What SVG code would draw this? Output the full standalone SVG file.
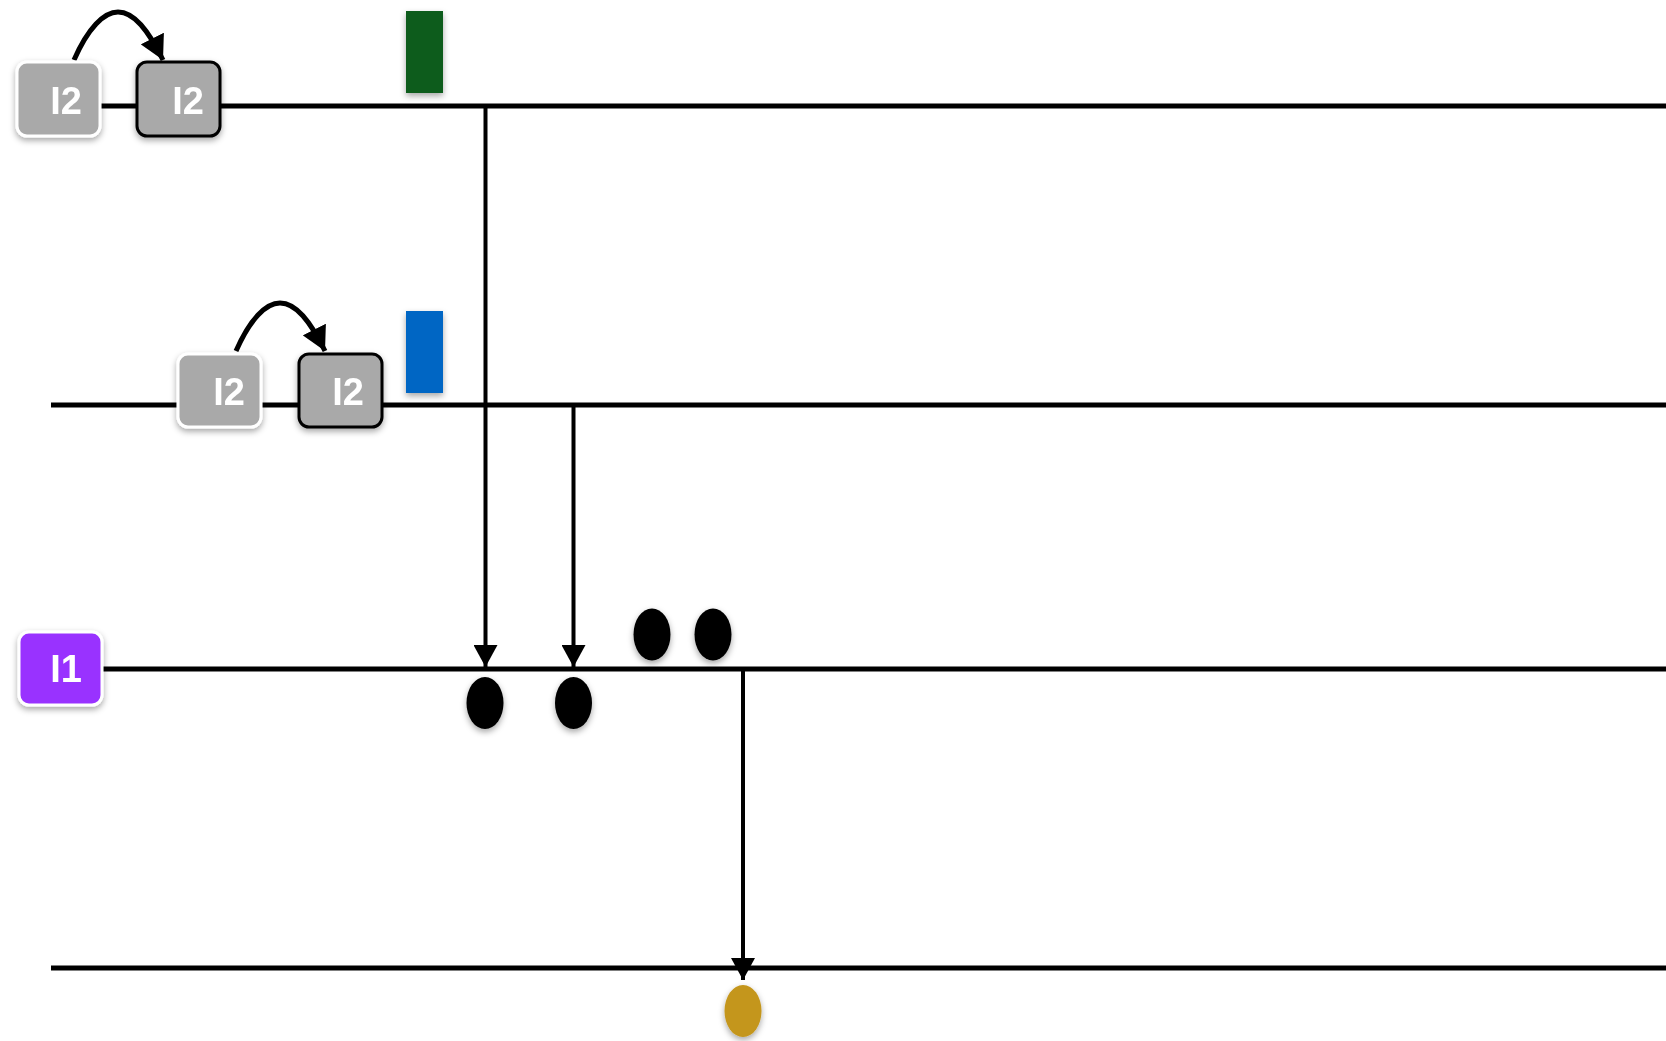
<svg xmlns="http://www.w3.org/2000/svg" width="1666" height="1041" viewBox="0 0 1666 1041">
<style>
.lane{stroke:#000;stroke-width:5;fill:none}
.conn{stroke:#000;stroke-width:4;fill:none}
.arc{stroke:#000;stroke-width:5;fill:none}
.box{fill:#a9a9a9;stroke-width:3}
.lbl{font-family:"Liberation Sans",Arial,sans-serif;font-weight:bold;font-size:38px;fill:#fff;text-anchor:middle}
.dot{fill:#000}
</style>
<defs>
<filter id="sh" x="-30%" y="-30%" width="160%" height="160%">
<feDropShadow dx="0" dy="3" stdDeviation="3" flood-color="#000" flood-opacity="0.35"/>
</filter>
<marker id="arr" viewBox="0 0 22 24" refX="22" refY="12" markerWidth="22" markerHeight="24" markerUnits="userSpaceOnUse" orient="auto">
<path d="M0,0 L22,12 L0,24 z" fill="#000"/>
</marker>
<marker id="arr2" viewBox="0 0 24 26" refX="24" refY="13" markerWidth="24" markerHeight="26" markerUnits="userSpaceOnUse" orient="auto">
<path d="M0,0 L24,13 L0,26 z" fill="#000"/>
</marker>
</defs>
<g id="lanes">
<line class="lane" x1="100" y1="106" x2="1666" y2="106"/>
<line class="lane" x1="51" y1="405" x2="1666" y2="405"/>
<line class="lane" x1="102" y1="669" x2="1666" y2="669"/>
<line class="lane" x1="51" y1="968" x2="1666" y2="968"/>
</g>
<g id="connectors">
<path class="arc" d="M74,60 C88,28 104,12 118,12 C134,12 148,30 163,60" marker-end="url(#arr2)"/>
<path class="arc" d="M236,351 C250,319 266,303 280,303 C296,303 310,321 325,351" marker-end="url(#arr2)"/>
<line class="conn" x1="485.5" y1="106" x2="485.5" y2="667" marker-end="url(#arr)"/>
<line class="conn" x1="573.5" y1="405" x2="573.5" y2="667" marker-end="url(#arr)"/>
<line class="conn" x1="743" y1="669" x2="743" y2="980" marker-end="url(#arr)"/>
</g>
<g id="n1" filter="url(#sh)">
<rect class="box" x="17" y="62" width="83" height="74" rx="10" stroke="#fff"/>
<text class="lbl" x="66" y="114">I2</text>
</g>
<g id="n2" filter="url(#sh)">
<rect class="box" x="137" y="62" width="83" height="74" rx="10" stroke="#000"/>
<text class="lbl" x="188" y="114">I2</text>
</g>
<g id="n3" filter="url(#sh)">
<rect class="box" x="178" y="354" width="83" height="73" rx="10" stroke="#fff"/>
<text class="lbl" x="229" y="405">I2</text>
</g>
<g id="n4" filter="url(#sh)">
<rect class="box" x="299" y="354" width="83" height="73" rx="10" stroke="#000"/>
<text class="lbl" x="348" y="405">I2</text>
</g>
<g id="n5" filter="url(#sh)">
<rect x="19" y="632" width="83" height="73" rx="10" fill="#9933ff" stroke="#fff" stroke-width="3"/>
<text class="lbl" x="66" y="682">I1</text>
</g>
<g id="green" filter="url(#sh)">
<rect x="406" y="11" width="37" height="82" fill="#0d5c1a"/>
</g>
<g id="blue" filter="url(#sh)">
<rect x="406" y="311" width="37" height="82" fill="#0066c4"/>
</g>
<g id="e1" filter="url(#sh)"><ellipse class="dot" cx="485" cy="703" rx="18.5" ry="26"/></g>
<g id="e2" filter="url(#sh)"><ellipse class="dot" cx="573.5" cy="703" rx="18.5" ry="26"/></g>
<g id="e3" filter="url(#sh)"><ellipse class="dot" cx="652" cy="634.5" rx="18.5" ry="26"/></g>
<g id="e4" filter="url(#sh)"><ellipse class="dot" cx="713" cy="634.5" rx="18.5" ry="26"/></g>
<g id="e5" filter="url(#sh)"><ellipse cx="743" cy="1011" rx="18.5" ry="26" fill="#c4961c"/></g>
</svg>
